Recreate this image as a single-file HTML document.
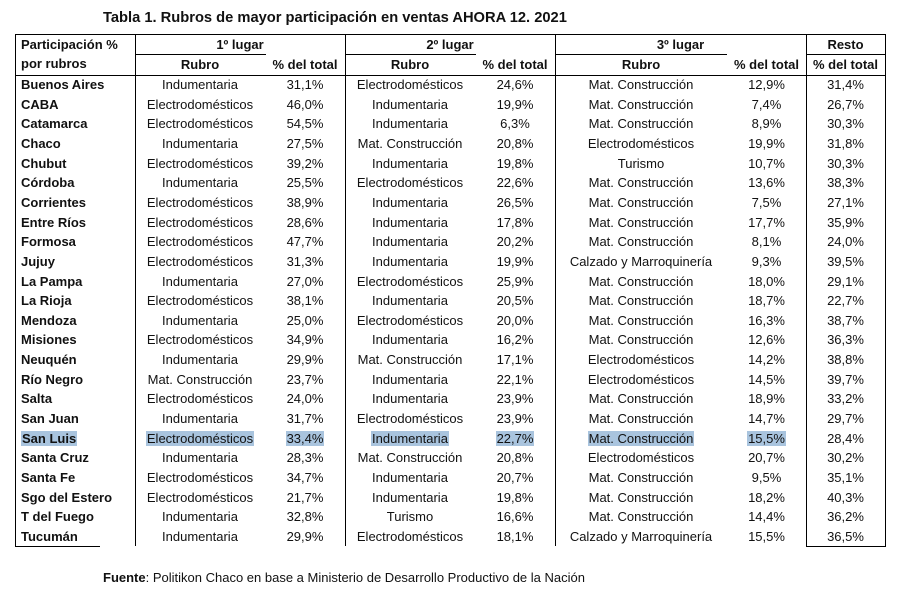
<!DOCTYPE html>
<html><head><meta charset="utf-8"><style>
body{margin:0;width:900px;height:593px;background:#fff;position:relative;overflow:hidden;font-family:"Liberation Sans",Arial,sans-serif;color:#111}
.t{position:absolute;font-size:13px;line-height:16px;white-space:nowrap}
.b{font-weight:bold}
.c{text-align:center}
.hl{background:#a9c4de}
.ln{position:absolute;background:#000}
.r{position:absolute;left:0;width:900px;height:18px}
.r>div{position:absolute;top:0;font-size:13px;line-height:16px;white-space:nowrap;text-align:center}
.r>div:nth-child(1){left:21px;text-align:left;font-weight:bold}
.r>div:nth-child(2){left:135px;width:130px}
.r>div:nth-child(3){left:265px;width:80px}
.r>div:nth-child(4){left:345px;width:130px}
.r>div:nth-child(5){left:475px;width:80px}
.r>div:nth-child(6){left:555px;width:172px}
.r>div:nth-child(7){left:727px;width:79px}
.r>div:nth-child(8){left:806px;width:79px}
.r span.hl{padding:0 1px}
</style></head><body>
<div class="t b" style="left:103px;top:9px;font-size:14.7px;line-height:18px">Tabla 1. Rubros de mayor participación en ventas AHORA 12. 2021</div>
<div class="t" style="left:103px;top:570px;font-size:13px"><b>Fuente</b>: Politikon Chaco en base a Ministerio de Desarrollo Productivo de la Nación</div>

<div class="ln" style="left:15px;top:34px;width:871px;height:1px"></div>
<div class="ln" style="left:15px;top:75px;width:871px;height:1px"></div>
<div class="ln" style="left:135px;top:54px;width:131px;height:1px"></div>
<div class="ln" style="left:345px;top:54px;width:131px;height:1px"></div>
<div class="ln" style="left:555px;top:54px;width:172px;height:1px"></div>
<div class="ln" style="left:806px;top:54px;width:80px;height:1px"></div>
<div class="ln" style="left:15px;top:34px;width:1px;height:513px"></div>
<div class="ln" style="left:135px;top:34px;width:1px;height:512px"></div>
<div class="ln" style="left:345px;top:34px;width:1px;height:512px"></div>
<div class="ln" style="left:555px;top:34px;width:1px;height:512px"></div>
<div class="ln" style="left:806px;top:34px;width:1px;height:513px"></div>
<div class="ln" style="left:885px;top:34px;width:1px;height:513px"></div>
<div class="ln" style="left:15px;top:546px;width:85px;height:1px"></div>
<div class="ln" style="left:806px;top:546px;width:80px;height:1px"></div>

<div class="t b" style="left:21px;top:37px">Participación %</div>
<div class="t b" style="left:21px;top:56px">por rubros</div>
<div class="t b c" style="left:135px;top:37px;width:210px">1º lugar</div>
<div class="t b c" style="left:345px;top:37px;width:210px">2º lugar</div>
<div class="t b c" style="left:555px;top:37px;width:251px">3º lugar</div>
<div class="t b c" style="left:806px;top:37px;width:79px">Resto</div>
<div class="t b c" style="left:135px;top:57px;width:130px">Rubro</div>
<div class="t b c" style="left:265px;top:57px;width:80px">% del total</div>
<div class="t b c" style="left:345px;top:57px;width:130px">Rubro</div>
<div class="t b c" style="left:475px;top:57px;width:80px">% del total</div>
<div class="t b c" style="left:555px;top:57px;width:172px">Rubro</div>
<div class="t b c" style="left:727px;top:57px;width:79px">% del total</div>
<div class="t b c" style="left:806px;top:57px;width:79px">% del total</div>

<div class="r" style="top:77px"><div>Buenos Aires</div><div>Indumentaria</div><div>31,1%</div><div>Electrodomésticos</div><div>24,6%</div><div>Mat. Construcción</div><div>12,9%</div><div>31,4%</div></div>
<div class="r" style="top:96.65px"><div>CABA</div><div>Electrodomésticos</div><div>46,0%</div><div>Indumentaria</div><div>19,9%</div><div>Mat. Construcción</div><div>7,4%</div><div>26,7%</div></div>
<div class="r" style="top:116.3px"><div>Catamarca</div><div>Electrodomésticos</div><div>54,5%</div><div>Indumentaria</div><div>6,3%</div><div>Mat. Construcción</div><div>8,9%</div><div>30,3%</div></div>
<div class="r" style="top:135.95px"><div>Chaco</div><div>Indumentaria</div><div>27,5%</div><div>Mat. Construcción</div><div>20,8%</div><div>Electrodomésticos</div><div>19,9%</div><div>31,8%</div></div>
<div class="r" style="top:155.6px"><div>Chubut</div><div>Electrodomésticos</div><div>39,2%</div><div>Indumentaria</div><div>19,8%</div><div>Turismo</div><div>10,7%</div><div>30,3%</div></div>
<div class="r" style="top:175.25px"><div>Córdoba</div><div>Indumentaria</div><div>25,5%</div><div>Electrodomésticos</div><div>22,6%</div><div>Mat. Construcción</div><div>13,6%</div><div>38,3%</div></div>
<div class="r" style="top:194.9px"><div>Corrientes</div><div>Electrodomésticos</div><div>38,9%</div><div>Indumentaria</div><div>26,5%</div><div>Mat. Construcción</div><div>7,5%</div><div>27,1%</div></div>
<div class="r" style="top:214.55px"><div>Entre Ríos</div><div>Electrodomésticos</div><div>28,6%</div><div>Indumentaria</div><div>17,8%</div><div>Mat. Construcción</div><div>17,7%</div><div>35,9%</div></div>
<div class="r" style="top:234.2px"><div>Formosa</div><div>Electrodomésticos</div><div>47,7%</div><div>Indumentaria</div><div>20,2%</div><div>Mat. Construcción</div><div>8,1%</div><div>24,0%</div></div>
<div class="r" style="top:253.85px"><div>Jujuy</div><div>Electrodomésticos</div><div>31,3%</div><div>Indumentaria</div><div>19,9%</div><div>Calzado y Marroquinería</div><div>9,3%</div><div>39,5%</div></div>
<div class="r" style="top:273.5px"><div>La Pampa</div><div>Indumentaria</div><div>27,0%</div><div>Electrodomésticos</div><div>25,9%</div><div>Mat. Construcción</div><div>18,0%</div><div>29,1%</div></div>
<div class="r" style="top:293.15px"><div>La Rioja</div><div>Electrodomésticos</div><div>38,1%</div><div>Indumentaria</div><div>20,5%</div><div>Mat. Construcción</div><div>18,7%</div><div>22,7%</div></div>
<div class="r" style="top:312.8px"><div>Mendoza</div><div>Indumentaria</div><div>25,0%</div><div>Electrodomésticos</div><div>20,0%</div><div>Mat. Construcción</div><div>16,3%</div><div>38,7%</div></div>
<div class="r" style="top:332.45px"><div>Misiones</div><div>Electrodomésticos</div><div>34,9%</div><div>Indumentaria</div><div>16,2%</div><div>Mat. Construcción</div><div>12,6%</div><div>36,3%</div></div>
<div class="r" style="top:352.1px"><div>Neuquén</div><div>Indumentaria</div><div>29,9%</div><div>Mat. Construcción</div><div>17,1%</div><div>Electrodomésticos</div><div>14,2%</div><div>38,8%</div></div>
<div class="r" style="top:371.75px"><div>Río Negro</div><div>Mat. Construcción</div><div>23,7%</div><div>Indumentaria</div><div>22,1%</div><div>Electrodomésticos</div><div>14,5%</div><div>39,7%</div></div>
<div class="r" style="top:391.4px"><div>Salta</div><div>Electrodomésticos</div><div>24,0%</div><div>Indumentaria</div><div>23,9%</div><div>Mat. Construcción</div><div>18,9%</div><div>33,2%</div></div>
<div class="r" style="top:411.05px"><div>San Juan</div><div>Indumentaria</div><div>31,7%</div><div>Electrodomésticos</div><div>23,9%</div><div>Mat. Construcción</div><div>14,7%</div><div>29,7%</div></div>
<div class="r" style="top:430.7px"><div><span class="hl">San Luis</span></div><div><span class="hl">Electrodomésticos</span></div><div><span class="hl">33,4%</span></div><div><span class="hl">Indumentaria</span></div><div><span class="hl">22,7%</span></div><div><span class="hl">Mat. Construcción</span></div><div><span class="hl">15,5%</span></div><div>28,4%</div></div>
<div class="r" style="top:450.35px"><div>Santa Cruz</div><div>Indumentaria</div><div>28,3%</div><div>Mat. Construcción</div><div>20,8%</div><div>Electrodomésticos</div><div>20,7%</div><div>30,2%</div></div>
<div class="r" style="top:470px"><div>Santa Fe</div><div>Electrodomésticos</div><div>34,7%</div><div>Indumentaria</div><div>20,7%</div><div>Mat. Construcción</div><div>9,5%</div><div>35,1%</div></div>
<div class="r" style="top:489.65px"><div>Sgo del Estero</div><div>Electrodomésticos</div><div>21,7%</div><div>Indumentaria</div><div>19,8%</div><div>Mat. Construcción</div><div>18,2%</div><div>40,3%</div></div>
<div class="r" style="top:509.3px"><div>T del Fuego</div><div>Indumentaria</div><div>32,8%</div><div>Turismo</div><div>16,6%</div><div>Mat. Construcción</div><div>14,4%</div><div>36,2%</div></div>
<div class="r" style="top:528.95px"><div>Tucumán</div><div>Indumentaria</div><div>29,9%</div><div>Electrodomésticos</div><div>18,1%</div><div>Calzado y Marroquinería</div><div>15,5%</div><div>36,5%</div></div>
</body></html>
